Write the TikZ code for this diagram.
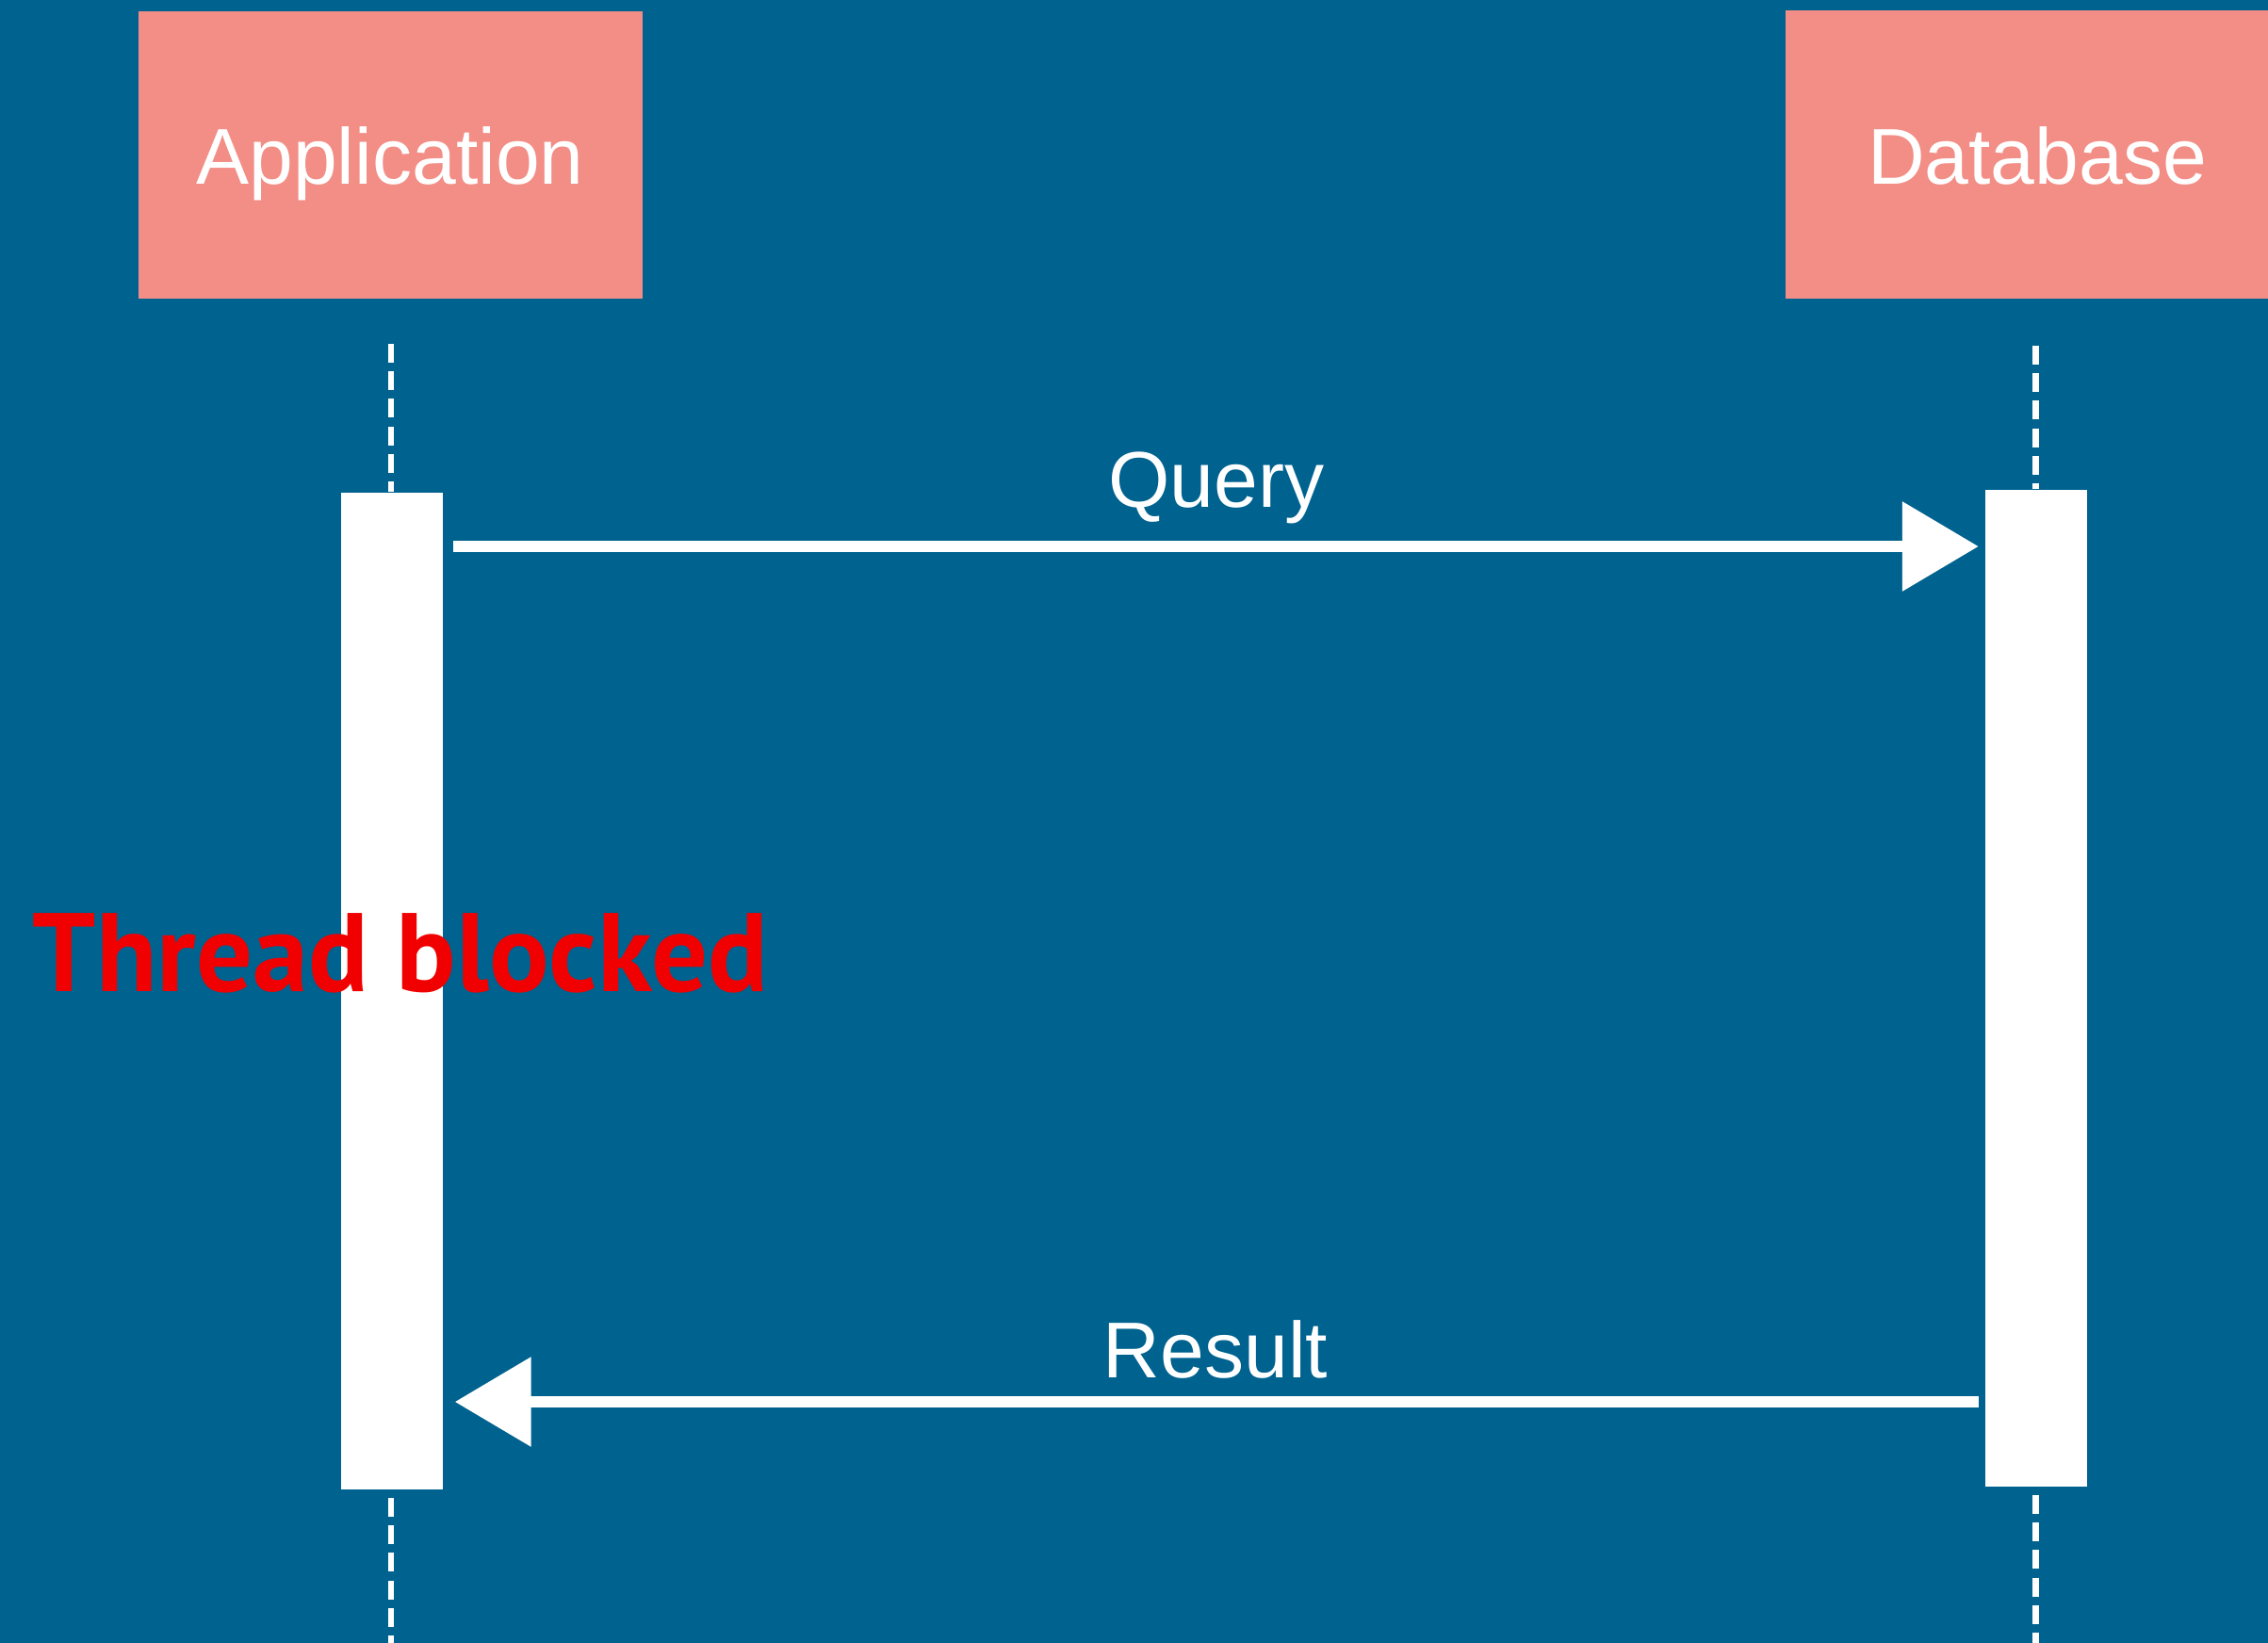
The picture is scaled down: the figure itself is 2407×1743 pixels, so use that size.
\documentclass[tikz,border=0pt]{standalone}
\usepackage{graphicx}
\usepackage{fontspec}
\setmainfont{Liberation Sans}
\newfontfamily\tbfont{PT Sans}
\usetikzlibrary{arrows.meta}
\definecolor{bg}{RGB}{0,98,143}
\definecolor{pinkbox}{RGB}{242,142,134}
\definecolor{tbred}{RGB}{240,0,0}
\begin{document}
\begin{tikzpicture}[x=0.01cm,y=-0.01cm,
 actor/.style={fill=pinkbox, inner sep=0, minimum width=5.35cm, minimum height=3.05cm},
 actlabel/.style={text=white, font=\fontsize{23.9pt}{28pt}\selectfont, anchor=base, inner sep=0},
 actbar/.style={fill=white, inner sep=0, minimum width=1.08cm, minimum height=10.58cm},
 lifeline/.style={white, line width=1.9pt, dash pattern=on 5.7pt off 2.6pt},
 msg/.style={white, line width=3.6pt, -{Triangle[length=23pt,width=26.2pt]}},
 ]
\useasboundingbox (0,0) rectangle (2407,1743);
\fill[bg] (-20,-20) rectangle (2430,1770);
\node[actor] (app) at (414.5,164.5) {};
\node[actor] (db) at (2162.5,164) {};
\node[actlabel] (applbl) at (414,196) {Application};
\node[actlabel] (dblbl) at (2162,196) {Database};
\node[actbar] (appbar) at (416,1052) {};
\node[actbar] (dbbar) at (2160.5,1049) {};
\coordinate (apptop) at (415,365);
\coordinate (appbot) at (415,1760);
\coordinate (dbtop) at (2160.5,367);
\coordinate (dbbot) at (2160.5,1760);
\draw[lifeline] (apptop) -- (apptop |- appbar.north);
\draw[lifeline] ([yshift=-0.08cm]apptop |- appbar.south) -- (appbot);
\draw[lifeline] (dbtop) -- (dbbar.north);
\draw[lifeline] ([yshift=-0.08cm]dbbar.south) -- (dbbot);
\coordinate (qy) at (0,580);
\coordinate (ry) at (0,1488);
\draw[msg, shorten <=0.1cm, shorten >=0.06cm] (appbar.east |- qy) -- (dbbar.west |- qy);
\draw[msg, shorten <=0.06cm, shorten >=0.12cm] (dbbar.west |- ry) -- (appbar.east |- ry);
\node[actlabel] (qlbl) at (1291,538) {Query};
\node[actlabel] (rlbl) at (1290,1462) {Result};
\node[anchor=base west, inner sep=0, text=tbred] (tb) at (34,1052) {\resizebox{221.9pt}{!}{\tbfont\bfseries Thread blocked}};
\end{tikzpicture}
\end{document}
